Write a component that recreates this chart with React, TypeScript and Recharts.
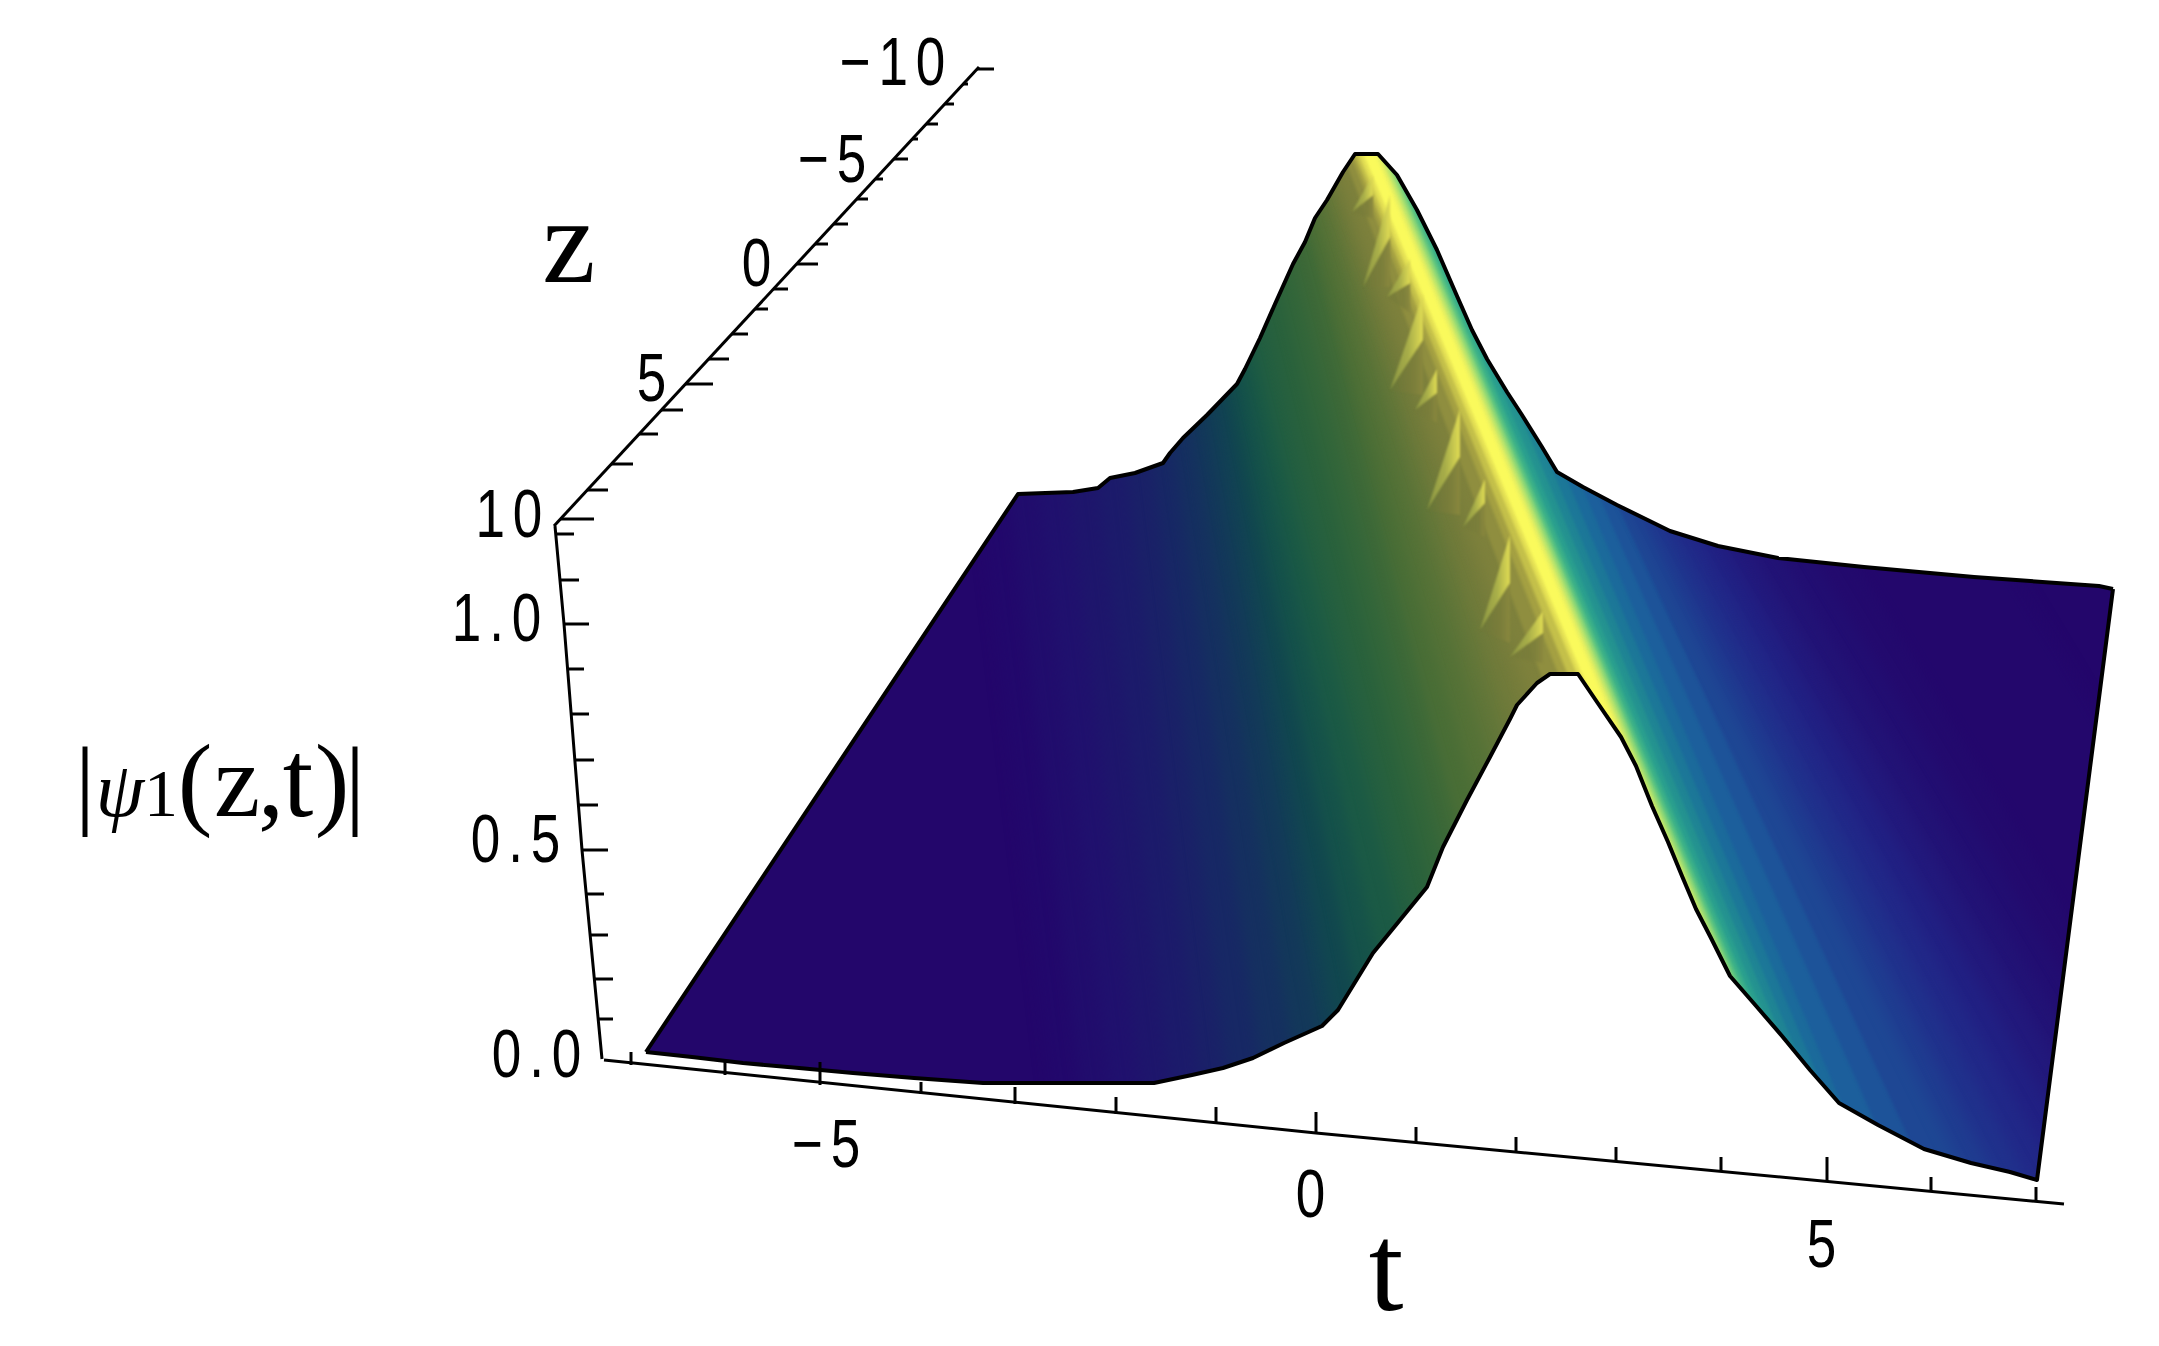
import React from 'react';
import { ComposedChart, Area, Line, Scatter, XAxis, YAxis } from 'recharts';

const WIDTH = 2159;
const HEIGHT = 1346;

const upperEdge = [
    [646, 1052], [1018, 494], [1073, 492], [1098, 488], [1110, 478], [1135, 473], [1163, 463], [1170, 453], [1183, 438],
    [1207, 415], [1237, 384], [1245, 369], [1260, 338], [1275, 304], [1293, 264], [1305, 242], [1315, 218], [1327, 200],
    [1343, 172], [1355, 154], [1378, 154], [1397, 175], [1417, 210], [1437, 250], [1457, 296], [1472, 330], [1487, 359],
    [1507, 392], [1522, 415], [1542, 447], [1557, 472], [1583, 487], [1617, 505], [1670, 531], [1718, 546],
    [1778, 558], [1864, 567], [1974, 577], [2099, 586], [2113, 589],
];
const lowerEdge = [
    [646, 1052], [692, 1057], [743, 1063], [799, 1068], [853, 1073], [914, 1078], [983, 1083], [1154, 1083],
    [1192, 1075], [1223, 1068], [1253, 1058], [1284, 1043], [1322, 1026], [1338, 1010], [1373, 953], [1400, 920],
    [1427, 887], [1443, 847], [1467, 800], [1490, 757], [1510, 719], [1517, 705], [1537, 683], [1550, 674],
    [1578, 674], [1597, 702], [1621, 737], [1636, 766], [1652, 806], [1668, 842], [1682, 876], [1696, 909],
    [1711, 938], [1730, 976], [1757, 1007], [1782, 1036], [1810, 1070], [1839, 1103], [1878, 1125], [1924, 1149],
    [1971, 1163], [2010, 1172], [2037, 1180], [2113, 589],
];

// colour bands across the surface: where each starts on the reference row, how far it leans, its colour
const REF_ROW = 541;
const bandPos = [
    985, 1015, 1045, 1075, 1105, 1135, 1162, 1187, 1211, 1231, 1248, 1265, 1285, 1305, 1325, 1345, 1365, 1385,
    1405, 1425, 1442, 1457, 1472, 1490, 1505, 1513, 1521, 1526, 1538, 1542, 1546, 1550, 1554, 1559, 1565, 1573,
    1582, 1593, 1605, 1619, 1634, 1649, 1665, 1683, 1702, 1722, 1744, 1772, 1804, 1842,
];
const bandLean = [
    .12, .12, .12, .12, .12, .12, .12, .14, .16, .18, .18, .2, .22, .25, .25, .25, .25, .25,
    .28, .3, .32, .34, .36, .38, .4, .41, .42, .42, .42, .42, .42, .42, .42, .42, .42, .42,
    .42, .42, .42, .44, .46, .5, .52, .54, .56, .58, .6, .6, .6, .6,
];
const bandColor = [
    '#22086c', '#210d6d', '#20116e', '#1e166c', '#1c1b6b', '#1a2168', '#172865', '#153060', '#13385a', '#124055',
    '#11474f', '#15524a', '#1b5a45', '#245f40', '#2a623c', '#33663a', '#3d6938', '#4a6e36', '#557237', '#617639',
    '#6d7a3a', '#757c3b', '#7e813c', '#8f8e3f', '#a4a042', '#c4c04a', '#e4e054', '#fafa5c', '#e8f060', '#c0e66a',
    '#90d875', '#5cc480', '#3bb088', '#2a9f8e', '#249290', '#1f8494', '#1c7798', '#1b6a9b', '#1c5f9c', '#1d5399',
    '#1e4794', '#1f3c90', '#20318c', '#212888', '#212083', '#22197c', '#221376', '#220e72', '#230a6e', '#23076c',
];
const BASE_COLOR = '#23066b';
const BAND_WIDTH = 130;

// saw teeth along the left flank of the ridge: lower tip, upper apex, then how far each wedge opens
const toothTip = [[1352, 212], [1363, 287], [1387, 297], [1390, 390], [1415, 410], [1427, 510], [1463, 527], [1480, 630], [1510, 657]];
const toothApex = [[1373, 195], [1390, 237], [1410, 283], [1423, 340], [1437, 393], [1460, 457], [1485, 503], [1510, 583], [1543, 633]];
const toothLime = [20, 42, 24, 46, 24, 48, 24, 48, 22];
const toothDark = [24, 50, 30, 55, 30, 58, 34, 60, 30];

const psiTicks = [0.1, 0.2, 0.3, 0.4, 0.5, 0.6, 0.7, 0.8, 0.9, 1.0, 1.1, 1.2];
const psiTickRow = [1019, 979, 935, 894, 850, 805, 760, 714, 669, 624, 580, 534];
const psiTickFrom = [598, 594, 590, 586, 582, 579, 575, 571, 567, 564, 560, 556];
const psiTickTo = [613, 613, 608, 604, 608, 598, 594, 589, 584, 589, 579, 574];

const zTicks = [10, 9, 8, 7, 6, 5, 4, 3, 2, 1, 0, -1, -2, -3, -4, -5, -6, -7, -8, -9, -10];
const zTickRow = [519, 490, 464, 434, 410, 384, 359, 334, 309, 289, 264, 244, 224, 199, 179, 159, 139, 124, 104, 84, 69];
const zTickFrom = [560, 587, 611, 639, 661, 685, 709, 732, 755, 773, 797, 815, 834, 857, 876, 894, 912, 926, 945, 963, 977];
const zTickTo = [594, 608, 633, 658, 683, 713, 729, 748, 768, 788, 818, 828, 848, 868, 883, 908, 918, 938, 954, 968, 994];

const tTicks = [-7, -6, -5, -4, -3, -2, -1, 0, 1, 2, 3, 4, 5, 6, 7];
const tTickPos = [631, 725, 820, 921, 1015, 1116, 1216, 1316, 1416, 1516, 1616, 1721, 1827, 1931, 2036];
const tTickBase = [1065, 1075, 1085, 1094, 1104, 1114, 1124, 1133, 1142, 1152, 1162, 1172, 1182, 1192, 1202];
const tTickTop = [1052, 1062, 1062, 1082, 1087, 1097, 1107, 1112, 1127, 1137, 1147, 1157, 1157, 1177, 1187];

const psiAxisLine = [[602, 1059], [582, 850], [564, 624], [555, 526]];
const zAxisLine = [[554, 526], [979, 67]];
const tAxisLine = [[604, 1060], [1316, 1133], [2064, 1204]];

const tickLabels = [
    { x: 945, y: 85, label: '\u221210' },
    { x: 866, y: 182, label: '\u22125' },
    { x: 771, y: 286, label: '0' },
    { x: 666, y: 401, label: '5' },
    { x: 542, y: 537, label: '10' },
    { x: 541, y: 641, label: '1.0' },
    { x: 560, y: 862, label: '0.5' },
    { x: 581, y: 1077, label: '0.0' },
    { x: 860, y: 1167, label: '\u22125' },
    { x: 1325, y: 1217, label: '0' },
    { x: 1836, y: 1267, label: '5' },
];
const axisTitles = [
    { x: 569, y: 282, label: 'z', size: 120 },
    { x: 1386, y: 1310, label: 't', size: 125 },
];
const psiTitleAnchor = [{ x: 85, y: 816 }];
const psiTitleParts = [
    { text: '|', at: 85, size: 100 },
    { text: '\u03c8', at: 120, size: 78, italic: true },
    { text: '1', at: 161, size: 68 },
    { text: '(', at: 195, size: 104 },
    { text: 'z', at: 237, size: 104 },
    { text: ',', at: 271, size: 104 },
    { text: 't', at: 298, size: 110 },
    { text: ')', at: 332, size: 104 },
    { text: '|', at: 355, size: 100 },
];

const toPoints = (rows) => rows.map(([x, y]) => ({ x, y }));

// each band is painted from its left boundary rightwards, the next one paints over it
const bandSegment = (pos, lean) => {
    const shift = (BAND_WIDTH / 2) * Math.sqrt(1 + lean * lean);
    return [
        { x: pos + shift + lean * (100 - REF_ROW), y: 100 },
        { x: pos + shift + lean * (1250 - REF_ROW), y: 1250 },
    ];
};

const outsideAbove = [[380, 1052], ...upperEdge, [2159, 589]].map(([x, y]) => ({ x, range: [0, y] }));
const outsideBelow = [[380, 1052], ...lowerEdge, [2159, 589]].map(([x, y]) => ({ x, range: [y, HEIGHT] }));

const TickLabel = ({ cx, cy, payload }) => (
    <text
        transform={`translate(${cx + 8},${cy}) scale(0.78,1)`}
        textAnchor="end"
        fontFamily="'Liberation Sans'"
        fontSize={68}
        letterSpacing={10}
        fill="#000"
    >
        {payload.label}
    </text>
);

const AxisTitle = ({ cx, cy, payload }) => (
    <text x={cx} y={cy} textAnchor="middle" fontFamily="'Liberation Serif'" fontSize={payload.size} fill="#000">
        {payload.label}
    </text>
);

const PsiTitle = ({ cy }) => (
    <text y={cy} textAnchor="middle" fontFamily="'Liberation Serif'" fill="#000">
        {psiTitleParts.map((p, i) => (
            <tspan key={i} x={p.at} fontSize={p.size} fontStyle={p.italic ? 'italic' : 'normal'}>{p.text}</tspan>
        ))}
    </text>
);

const blackLine = (key, data, width = 3) => (
    <Line
        key={key}
        data={data}
        dataKey="y"
        type="linear"
        stroke="#000"
        strokeWidth={width}
        strokeLinejoin="round"
        dot={false}
        activeDot={false}
        legendType="none"
        isAnimationActive={false}
        zIndex={500}
    />
);

const groundLine = (key, x, width) => (
    <Line
        key={key}
        data={[{ x, y: 100 }, { x, y: 1250 }]}
        dataKey="y"
        stroke={BASE_COLOR}
        strokeWidth={width}
        dot={false}
        activeDot={false}
        isAnimationActive={false}
    />
);

const App = () => (
    <div style={{ position: 'absolute', left: 0, top: 0, background: '#fff' }}>
        <ComposedChart width={WIDTH} height={HEIGHT} margin={{ top: 0, right: 0, bottom: 0, left: 0 }}>
            <defs>
                <filter id="softWide" filterUnits="userSpaceOnUse" x="0" y="0" width={WIDTH} height={HEIGHT} colorInterpolationFilters="sRGB">
                    <feGaussianBlur stdDeviation="7" />
                </filter>
                <filter id="softNarrow" filterUnits="userSpaceOnUse" x="0" y="0" width={WIDTH} height={HEIGHT} colorInterpolationFilters="sRGB">
                    <feGaussianBlur stdDeviation="1.8" />
                </filter>
                <filter id="softTooth" filterUnits="userSpaceOnUse" x="0" y="0" width={WIDTH} height={HEIGHT} colorInterpolationFilters="sRGB">
                    <feGaussianBlur stdDeviation="1.3" />
                </filter>
                <linearGradient id="toothDarkFill" x1="0" y1="0" x2="1" y2="0">
                    <stop offset="0%" stopColor="#6f7638" stopOpacity={0.1} />
                    <stop offset="70%" stopColor="#7b7e3b" stopOpacity={0.9} />
                    <stop offset="100%" stopColor="#8a883e" stopOpacity={0.95} />
                </linearGradient>
                <linearGradient id="toothLimeFill" x1="0" y1="0" x2="1" y2="0">
                    <stop offset="0%" stopColor="#8f9a44" stopOpacity={0.9} />
                    <stop offset="55%" stopColor="#aab04a" stopOpacity={0.95} />
                    <stop offset="100%" stopColor="#e0dc54" stopOpacity={1} />
                </linearGradient>
            </defs>
            <XAxis dataKey="x" type="number" domain={[0, WIDTH]} hide allowDataOverflow />
            <YAxis dataKey="y" type="number" domain={[0, HEIGHT]} reversed hide allowDataOverflow />

            {/* flat dark ground of the sheet */}
            {groundLine('ground-left', 800, 840)}
            {groundLine('ground-right', 2159, 1000)}

            {bandPos.map((pos, i) => (
                <Line
                    key={`band-${i}`}
                    data={bandSegment(pos, bandLean[i])}
                    dataKey="y"
                    stroke={bandColor[i]}
                    strokeWidth={BAND_WIDTH}
                    filter={pos > 1480 && pos < 1640 ? 'url(#softNarrow)' : 'url(#softWide)'}
                    dot={false}
                    activeDot={false}
                    isAnimationActive={false}
                />
            ))}

            {toothTip.map((tip, i) => (
                <Area
                    key={`tooth-dark-${i}`}
                    data={[
                        { x: tip[0], range: [tip[1], tip[1]] },
                        { x: toothApex[i][0], range: [toothApex[i][1], toothApex[i][1] + toothDark[i]] },
                    ]}
                    dataKey="range"
                    type="linear"
                    stroke="none"
                    fill="url(#toothDarkFill)"
                    fillOpacity={1}
                    filter="url(#softTooth)"
                    dot={false}
                    activeDot={false}
                    isAnimationActive={false}
                    zIndex={420}
                />
            ))}
            {toothTip.map((tip, i) => (
                <Area
                    key={`tooth-lime-${i}`}
                    data={[
                        { x: tip[0], range: [tip[1], tip[1]] },
                        { x: toothApex[i][0], range: [toothApex[i][1] - toothLime[i], toothApex[i][1]] },
                    ]}
                    dataKey="range"
                    type="linear"
                    stroke="none"
                    fill="url(#toothLimeFill)"
                    fillOpacity={1}
                    filter="url(#softTooth)"
                    dot={false}
                    activeDot={false}
                    isAnimationActive={false}
                    zIndex={420}
                />
            ))}

            {/* everything outside the sheet goes back to white */}
            <Area data={outsideAbove} dataKey="range" type="linear" stroke="none" fill="#fff" fillOpacity={1} dot={false} activeDot={false} isAnimationActive={false} zIndex={450} />
            <Area data={outsideBelow} dataKey="range" type="linear" stroke="none" fill="#fff" fillOpacity={1} dot={false} activeDot={false} isAnimationActive={false} zIndex={450} />

            {blackLine('upper-edge', toPoints(upperEdge), 4)}
            {blackLine('lower-edge', toPoints(lowerEdge), 4)}

            {blackLine('psi-axis', toPoints(psiAxisLine))}
            {blackLine('t-axis', toPoints(tAxisLine))}
            {blackLine('z-axis', toPoints(zAxisLine))}

            {psiTicks.map((_, i) => blackLine(`psi-${i}`, [
                { x: psiTickFrom[i], y: psiTickRow[i] },
                { x: psiTickTo[i], y: psiTickRow[i] },
            ]))}
            {zTicks.map((_, i) => blackLine(`z-${i}`, [
                { x: zTickFrom[i], y: zTickRow[i] },
                { x: zTickTo[i], y: zTickRow[i] },
            ]))}
            {tTicks.map((_, i) => blackLine(`t-${i}`, [
                { x: tTickPos[i], y: tTickBase[i] },
                { x: tTickPos[i], y: tTickTop[i] },
            ]))}

            <Scatter data={tickLabels} shape={TickLabel} isAnimationActive={false} />
            <Scatter data={axisTitles} shape={AxisTitle} isAnimationActive={false} />
            <Scatter data={psiTitleAnchor} shape={PsiTitle} isAnimationActive={false} />
        </ComposedChart>
    </div>
);

export default App;
